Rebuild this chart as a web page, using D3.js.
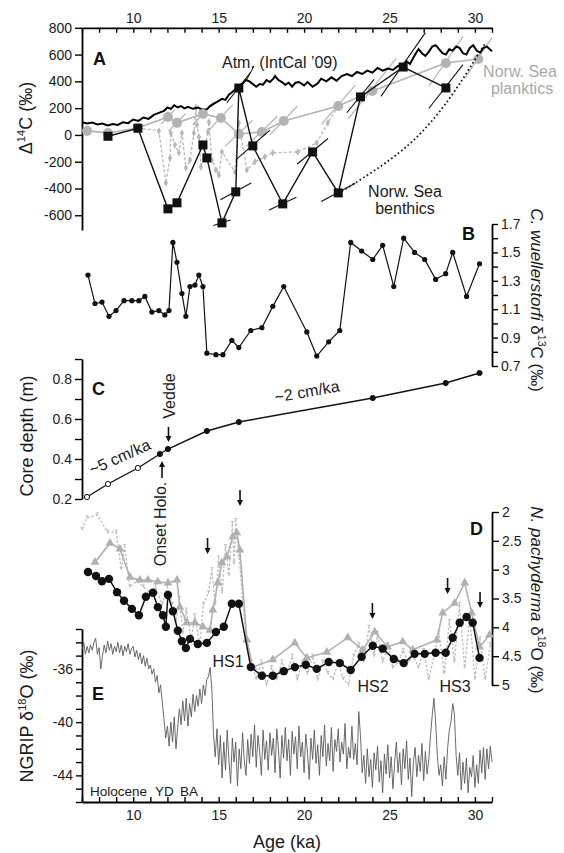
<!DOCTYPE html>
<html>
<head>
<meta charset="utf-8">
<script src="https://cdn.jsdelivr.net/npm/d3@7"></script>
<style>
  body { margin: 0; background: #fff; }
  text { font-family: "Liberation Sans", Arial, Helvetica, sans-serif; }
</style>
</head>
<body>
<svg id="chart" width="564" height="853"></svg>
<script>
// ---- panel A : D14C ----
const intcalAge = [7.0,7.3,7.6,7.9,8.2,8.5,8.8,9.1,9.4,9.7,10.0,10.3,10.6,10.9,11.2,11.5,11.8,12.0,12.2,12.4,12.6,12.8,13.0,13.2,13.5,13.8,14.0,14.3,14.5,14.8,15.0,15.2,15.4,15.6,15.8,16.0,16.2,16.4,16.6,16.8,17.0,17.2,17.4,17.6,17.8,18.0,18.2,18.3,18.5,18.7,18.9,19.1,19.3,19.5,19.7,20.0,20.2,20.5,20.8,21.0,21.3,21.6,21.9,22.2,22.5,22.8,23.1,23.4,23.7,24.0,24.3,24.6,24.9,25.2,25.5,25.8,26.0,26.2,26.5,26.7,26.9,27.1,27.3,27.5,27.7,27.9,28.1,28.3,28.5,28.7,28.9,29.1,29.3,29.5,29.7,29.9,30.1,30.3,30.5,30.7,31.0];
const intcalD14C = [95,85,92,78,85,70,82,75,95,88,115,105,130,120,150,165,180,205,195,222,205,215,198,210,195,205,190,190,215,240,255,270,262,300,320,345,370,385,410,400,380,360,380,375,410,395,420,440,410,395,375,390,360,390,395,370,395,360,385,420,400,430,405,440,455,440,470,455,480,465,500,480,495,485,515,525,550,530,600,640,610,590,620,660,670,640,610,600,640,630,660,650,610,600,650,670,630,615,650,660,625];

const plankAge  = [7.3,8.52,10.27,12.03,12.56,14.08,15.13,16.18,17.53,18.81,22.0,24.0,28.3,30.2];
const plankD14C = [30,15,52,134,90,157,127,7,22,104,216,328,537,567];
const plankErr  = [0,0,0,0.4,0.5,0.6,0.7,0.8,0.9,0.8,1.0,1.4,1.0,0.8];

const benthAge  = [8.52,10.27,12.03,12.56,14.08,14.31,15.19,16.0,16.18,17.0,18.75,20.5,22.0,23.3,25.8,28.3];
const benthD14C = [-10,50,-552,-507,-75,-172,-657,-425,350,-82,-515,-127,-433,284,507,351];
const benthErr  = [0,0,0,0,0,0,0.5,0.9,0.7,1.0,0.8,0.9,1.0,0.8,1.3,1.0];

const plank2Age  = [10.27,11.5,11.91,12.15,12.2,12.44,12.67,12.85,13.08,13.32,13.55,13.67,13.73,13.84,13.96,14.37,14.43,14.6,14.84,15.01,15.19,15.95,16.18,16.65,17.12,17.7,18.17,19.63,20.74,21.39,22.0];
const plank2D14C = [52,30,-358,-172,15,-75,-134,15,-246,-187,15,209,75,-15,-239,22,97,-187,-261,-299,-127,-276,90,-261,-201,-164,-134,-127,-60,90,216];

const reservoirAge  = [22.0,22.38,25.77,27.76,29.28,30.45,30.65];
const reservoirD14C = [-433,-410,-134,134,410,657,690];

// ---- panel B : C. wuellerstorfi d13C ----
const cibAge = [7.35,7.76,8.17,8.58,8.99,9.46,9.92,10.33,10.68,11.09,11.5,11.85,12.09,12.32,12.56,12.85,13.08,13.32,13.61,13.84,14.08,14.31,14.84,15.25,15.77,16.18,16.88,17.53,18.17,18.81,20.16,20.74,21.44,22.09,22.73,23.37,24.02,24.6,25.25,25.83,26.47,27.06,27.7,28.29,28.7,29.51,30.27];
const cibD13C = [1.34,1.14,1.15,1.05,1.09,1.16,1.16,1.16,1.19,1.08,1.09,1.06,1.09,1.57,1.43,1.21,1.05,1.26,1.27,1.34,1.26,0.79,0.78,0.78,0.88,0.83,0.95,0.97,1.12,1.26,0.94,0.77,0.87,0.95,1.57,1.51,1.45,1.55,1.26,1.6,1.5,1.45,1.31,1.35,1.5,1.19,1.42];

// ---- panel C : age model ----
const depthAge = [7.29,8.52,10.27,11.56,12.03,14.31,16.18,24.02,28.29,30.27];
const depthM   = [0.21,0.275,0.355,0.425,0.45,0.54,0.585,0.705,0.78,0.83];
const depthOpen = [true,true,true,false,false,false,false,false,false,false];

// ---- panel D : N. pachyderma d18O ----
const npsAge = [7.35,7.82,8.17,8.58,9.05,9.46,9.92,10.33,10.74,11.15,11.44,11.74,11.91,12.03,12.32,12.61,12.85,13.08,13.32,13.78,14.31,14.84,15.3,15.77,16.18,16.88,17.53,18.17,18.81,19.46,20.1,20.74,21.44,22.09,22.73,23.37,24.02,24.6,25.25,25.83,26.47,27.06,27.7,28.29,28.7,29.11,29.51,29.87,30.27];
const npsD18O = [3.04,3.11,3.2,3.16,3.39,3.54,3.68,3.79,3.47,3.4,3.65,3.79,3.99,3.44,3.72,4.06,4.24,4.36,4.2,4.29,4.27,4.08,3.99,3.59,3.59,4.69,4.84,4.84,4.76,4.69,4.65,4.72,4.6,4.62,4.74,4.51,4.32,4.37,4.55,4.62,4.46,4.46,4.44,4.44,4.18,3.92,3.82,3.92,4.53];

const triAge = [7.76,8.64,9.22,9.81,10.39,10.86,11.44,12.03,12.56,12.73,13.14,13.61,14.08,14.49,14.66,14.95,15.19,15.48,15.83,16.06,16.24,16.65,17.0,18.17,19.46,20.16,21.33,22.56,23.43,24.13,24.89,25.77,26.36,27.76,28.11,28.81,29.4,29.81,30.27,30.86];
const triD18O = [2.87,2.54,2.64,3.13,3.18,3.18,3.21,3.23,3.18,3.65,3.92,3.92,3.99,4.05,3.7,3.23,2.88,2.78,2.43,2.36,2.66,4.22,4.69,4.56,4.27,4.53,4.43,4.18,4.39,4.08,4.34,4.25,4.39,4.22,3.75,3.58,3.23,3.75,4.34,4.13];

const dotAge = [7.0,7.3,7.9,8.5,9.0,9.3,9.5,9.8,10.2,10.6,11.0,11.3,11.7,12.0,12.3,12.5,12.7,12.9,13.1,13.4,13.6,13.9,14.1,14.4,14.6,14.8,15.0,15.2,15.4,15.6,15.8,15.9,16.0,16.2,16.4,16.6,16.9,17.2,17.5,17.8,18.1,18.4,18.7,19.0,19.3,19.6,19.9,20.2,20.5,20.8,21.1,21.4,21.7,22.0,22.3,22.6,22.9,23.2,23.5,23.8,24.1,24.3,24.6,24.9,25.2,25.5,25.8,26.1,26.4,26.7,27.0,27.3,27.6,27.9,28.2,28.5,28.8,29.1,29.4,29.7,30.0,30.3,30.6,30.9];
const dotD18O = [2.3,2.1,2.05,2.35,2.35,3.0,2.6,3.3,3.2,3.3,3.4,3.3,3.6,3.3,3.6,3.9,3.5,4.1,3.7,4.2,3.8,4.3,3.6,3.4,3.0,3.6,2.8,3.4,2.6,3.1,2.2,2.9,2.15,2.8,3.5,4.2,4.6,4.9,4.6,5.0,4.7,4.9,4.6,4.8,4.5,4.9,4.6,4.8,4.5,4.9,4.6,4.8,4.9,4.6,4.9,5.0,4.5,4.3,4.6,4.0,4.5,4.1,4.6,4.3,4.7,4.6,4.4,4.6,4.5,4.7,4.4,4.9,4.5,4.1,4.8,3.9,4.6,3.6,4.7,3.8,4.9,4.2,4.9,4.3];

const arrowAge = [14.35,16.25,24.0,28.4,30.3];
const arrowTop = [538,490,603,578,592];

// ---- panel E : NGRIP d18O, one value per 0.1 ka from 7.0 ----
const ngripStart = 7.0, ngripStep = 0.1;
const ngripD18O = [
  -34.6,-34.0,-34.9,-34.3,-34.8,-34.2,-34.6,-34.0,-33.7,-34.9,
  -34.4,-36.0,-35.0,-34.2,-34.8,-33.9,-34.6,-34.1,-34.9,-34.3,
  -34.7,-34.0,-34.8,-34.2,-35.0,-34.3,-34.7,-34.1,-34.9,-34.5,
  -34.3,-35.1,-34.6,-35.3,-34.8,-35.6,-35.0,-35.8,-35.2,-36.0,
  -35.7,-36.4,-36.0,-37.0,-36.5,-37.8,-37.2,-38.5,-39.8,-41.2,
  -40.3,-41.8,-40.0,-41.5,-39.6,-42.0,-40.4,-39.0,-40.2,-38.4,
  -39.9,-38.2,-40.3,-38.6,-39.6,-37.9,-39.2,-38.0,-38.8,-37.5,
  -38.6,-37.2,-38.0,-36.8,-36.6,-35.9,-37.5,-41.0,-42.6,-40.5,
  -43.2,-41.0,-44.2,-41.5,-43.6,-40.6,-42.8,-44.6,-41.2,-43.0,
  -41.5,-44.8,-42.0,-43.5,-40.8,-42.9,-44.0,-41.3,-43.1,-40.9,
  -42.6,-40.2,-43.4,-41.0,-42.2,-44.0,-40.6,-42.8,-41.4,-43.6,
  -40.8,-42.5,-41.2,-43.8,-40.5,-42.0,-44.2,-41.0,-42.7,-40.4,
  -42.9,-41.3,-44.0,-40.7,-42.4,-41.1,-43.5,-40.3,-42.6,-41.5,
  -43.8,-40.9,-42.3,-44.3,-41.2,-42.8,-40.6,-43.1,-41.7,-44.0,
  -41.0,-42.6,-40.2,-43.3,-41.6,-42.9,-40.4,-43.7,-41.3,-42.2,
  -40.5,-43.0,-41.5,-42.4,-40.1,-43.5,-41.9,-42.7,-40.3,-42.8,
  -41.6,-43.2,-39.2,-41.0,-43.8,-42.5,-44.6,-42.0,-44.1,-42.8,
  -44.9,-42.3,-43.6,-41.8,-44.5,-42.9,-45.3,-42.4,-43.9,-41.7,
  -44.2,-42.6,-45.0,-43.1,-41.5,-43.8,-42.3,-44.7,-42.0,-43.5,
  -41.4,-44.3,-42.7,-45.6,-43.0,-41.9,-44.1,-42.5,-43.7,-41.6,
  -44.4,-42.2,-43.9,-42.8,-41.0,-39.5,-38.2,-40.0,-42.5,-44.0,
  -43.2,-44.8,-42.6,-44.3,-42.0,-40.6,-40.0,-38.6,-39.4,-42.5,
  -44.0,-42.3,-45.1,-43.0,-44.6,-42.7,-45.3,-43.4,-44.1,-42.5,
  -44.9,-43.2,-44.6,-42.1,-43.8,-41.9,-44.3,-42.0,-43.5,-41.8,
  -43.0];

// tick values
const ageMajor = [10,15,20,25,30];
const d14cTicks = [-600,-400,-200,0,200,400,600,800];
const d13cTicks = [0.7,0.8,0.9,1.0,1.1,1.2,1.3,1.4,1.5,1.6,1.7];
const depthTicks = [0.2,0.3,0.4,0.5,0.6,0.7,0.8,0.9];
const npsTicks = [2,2.5,3,3.5,4,4.5,5];
const ngripTicks = d3.range(-46,-32,1);
const ngripLabels = [-36,-40,-44];

// ---------------------------------------------------------------
const svg = d3.select("#chart");
const FONT = '"Liberation Sans", Arial, Helvetica, sans-serif';

const x  = d3.scaleLinear().domain([7,31]).range([82,492]);
const yA = d3.scaleLinear().domain([-710,800]).range([230,27.8]);
const yB = d3.scaleLinear().domain([0.7,1.7]).range([366,224]);
const yC = d3.scaleLinear().domain([0.2,0.9]).range([499,359]);
const yD = d3.scaleLinear().domain([2,5]).range([512,685]);
const yE = d3.scaleLinear().domain([-46,-33]).range([802,629]);

function styleAxis(g) {
  g.selectAll("path.domain").attr("stroke","#000").attr("stroke-width",1.8);
  g.selectAll(".tick line").attr("stroke","#000").attr("stroke-width",1.4);
  g.selectAll(".tick text").attr("font-size",14).attr("font-family",FONT).attr("fill","#1a1a1a");
}

// top and bottom age axes
svg.append("g").attr("transform",`translate(0,${yA(800)})`)
  .call(d3.axisTop(x).tickValues(d3.range(7,32)).tickSizeInner(-5).tickSizeOuter(0).tickPadding(5)
    .tickFormat(d => ageMajor.includes(d) ? d : ""))
  .call(styleAxis);
svg.append("g").attr("transform","translate(0,802)")
  .call(d3.axisBottom(x).tickValues(d3.range(7,32)).tickSizeInner(-5).tickSizeOuter(0).tickPadding(8)
    .tickFormat(d => ageMajor.includes(d) ? d : ""))
  .call(styleAxis);

// panel axes
svg.append("g").attr("transform","translate(82,0)")
  .call(d3.axisLeft(yA).tickValues(d14cTicks).tickSize(7).tickSizeOuter(0).tickPadding(3).tickFormat(d => String(d)))
  .call(styleAxis);
svg.append("g").attr("transform","translate(492,0)")
  .call(d3.axisRight(yB).tickValues(d13cTicks).tickSize(6).tickSizeOuter(0).tickPadding(3)
    .tickFormat(d => (Math.round(d*10) % 2 === 1) ? d3.format(".1f")(d) : ""))
  .call(styleAxis);
svg.append("g").attr("transform","translate(82,0)")
  .call(d3.axisLeft(yC).tickValues(depthTicks).tickSize(7).tickSizeOuter(0).tickPadding(3)
    .tickFormat(d => (Math.round(d*10) % 2 === 0 && d < 0.85) ? d3.format(".1f")(d) : ""))
  .call(styleAxis);
svg.append("g").attr("transform","translate(492,0)")
  .call(d3.axisRight(yD).tickValues(npsTicks).tickSize(7).tickSizeOuter(0).tickPadding(3).tickFormat(d => String(d)))
  .call(styleAxis);
svg.append("g").attr("transform","translate(82,0)")
  .call(d3.axisLeft(yE).tickValues(ngripTicks).tickSize(6).tickSizeOuter(0).tickPadding(3)
    .tickFormat(d => ngripLabels.includes(d) ? String(d) : ""))
  .call(styleAxis);

// helper for rich text with superscripts
function richText(tx, ty, rot, parts, size, anchor, color) {
  const t = svg.append("text")
    .attr("transform", `translate(${tx},${ty}) rotate(${rot})`)
    .attr("text-anchor", anchor || "middle")
    .attr("font-size", size).attr("fill", color || "#1a1a1a");
  let shift = 0;
  parts.forEach(p => {
    const s = t.append("tspan").text(p.t);
    if (p.sup) { s.attr("font-size", size*0.62).attr("dy", -size*0.4 - shift); shift = -size*0.4; }
    else { s.attr("dy", -shift); shift = 0; }
    if (p.it) s.attr("font-style","italic");
  });
  return t;
}

// axis titles
richText(32,118,-90,[{t:"\u0394"},{t:"14",sup:true},{t:"C (\u2030)"}],18);
richText(33,436,-90,[{t:"Core depth (m)"}],18);
richText(33,716,-90,[{t:"NGRIP \u03b4"},{t:"18",sup:true},{t:"O (\u2030)"}],18);
richText(531,300,90,[{t:"C. wuellerstorfi",it:true},{t:" \u03b4"},{t:"13",sup:true},{t:"C (\u2030)"}],17);
richText(531,600,90,[{t:"N. pachyderma",it:true},{t:" \u03b4"},{t:"18",sup:true},{t:"O (\u2030)"}],17);
svg.append("text").attr("x",287).attr("y",848).attr("text-anchor","middle")
  .attr("font-size",18).attr("fill","#1a1a1a").text("Age (ka)");

// panel letters
[["A",93,65],["B",462,240],["C",92,395],["D",470,535],["E",92,700]].forEach(([l,lx,ly]) => {
  svg.append("text").attr("x",lx).attr("y",ly).attr("font-size",18).attr("font-weight","bold")
    .attr("fill","#111").text(l);
});

// ---------- panel A ----------
const lineA = (ages, vals) => d3.line().x((d,i) => x(ages[i])).y((d,i) => yA(vals[i]))(ages);

// slanted age-uncertainty bars follow lines of constant radiocarbon age
function isochron(t, d, e) {
  const f = dt => (1000 + d) * Math.exp(dt / 8.267) - 1000;
  return [[x(t - e), yA(f(-e))], [x(t + e), yA(f(e))]];
}
plankAge.forEach((t,i) => {
  if (plankErr[i] > 0) svg.append("path").attr("d", d3.line()(isochron(t, plankD14C[i], plankErr[i])))
    .attr("stroke","#b3b3b3").attr("stroke-width",1.2).attr("fill","none");
});

svg.append("path").attr("d", lineA(plank2Age, plank2D14C))
  .attr("fill","none").attr("stroke","#b8b8b8").attr("stroke-width",1.3).attr("stroke-dasharray","3,2");
svg.append("g").selectAll("path").data(plank2Age).join("path")
  .attr("d", d3.symbol(d3.symbolDiamond, 16))
  .attr("transform",(d,i) => `translate(${x(d)},${yA(plank2D14C[i])})`)
  .attr("fill","#b8b8b8");

svg.append("path").attr("d", d3.line().x((d,i)=>x(intcalAge[i])).y((d,i)=>yA(intcalD14C[i]))(intcalAge))
  .attr("fill","none").attr("stroke","#000").attr("stroke-width",2);

svg.append("path").attr("d", lineA(plankAge, plankD14C))
  .attr("fill","none").attr("stroke","#b3b3b3").attr("stroke-width",1.6);
svg.append("g").selectAll("circle").data(plankAge).join("circle")
  .attr("cx", d => x(d)).attr("cy",(d,i) => yA(plankD14C[i])).attr("r",5).attr("fill","#b3b3b3");

benthAge.forEach((t,i) => {
  if (benthErr[i] > 0) svg.append("path").attr("d", d3.line()(isochron(t, benthD14C[i], benthErr[i])))
    .attr("stroke","#111").attr("stroke-width",1.1).attr("fill","none");
});
svg.append("path").attr("d", lineA(benthAge, benthD14C))
  .attr("fill","none").attr("stroke","#111").attr("stroke-width",1.4);
svg.append("g").selectAll("rect").data(benthAge).join("rect")
  .attr("x", d => x(d) - 4.5).attr("y",(d,i) => yA(benthD14C[i]) - 4.5)
  .attr("width",9).attr("height",9).attr("fill","#111");

svg.append("path").attr("d", d3.line().curve(d3.curveBasis).x((d,i)=>x(reservoirAge[i])).y((d,i)=>yA(reservoirD14C[i]))(reservoirAge))
  .attr("fill","none").attr("stroke","#111").attr("stroke-width",1.8).attr("stroke-dasharray","1.6,2.6");

// A labels
svg.append("text").attr("x",222).attr("y",68).attr("font-size",16).attr("fill","#1a1a1a").text("Atm. (IntCal \u201909)");
svg.append("line").attr("x1",254).attr("y1",66).attr("x2",246).attr("y2",81).attr("stroke","#111").attr("stroke-width",1);
svg.append("text").attr("x",520).attr("y",77).attr("text-anchor","middle").attr("font-size",16).attr("fill","#a8a8a8").text("Norw. Sea");
svg.append("text").attr("x",522).attr("y",94).attr("text-anchor","middle").attr("font-size",16).attr("fill","#a8a8a8").text("planktics");
svg.append("text").attr("x",405).attr("y",197).attr("text-anchor","middle").attr("font-size",16).attr("fill","#1a1a1a").text("Norw. Sea");
svg.append("text").attr("x",405).attr("y",214).attr("text-anchor","middle").attr("font-size",16).attr("fill","#1a1a1a").text("benthics");

// ---------- panel B ----------
svg.append("path").attr("d", d3.line().x((d,i)=>x(cibAge[i])).y((d,i)=>yB(cibD13C[i]))(cibAge))
  .attr("fill","none").attr("stroke","#111").attr("stroke-width",1.2);
svg.append("g").selectAll("circle").data(cibAge).join("circle")
  .attr("cx", d => x(d)).attr("cy",(d,i) => yB(cibD13C[i])).attr("r",2.6).attr("fill","#111");

// ---------- panel C ----------
svg.append("path").attr("d", d3.line().x((d,i)=>x(depthAge[i])).y((d,i)=>yC(depthM[i]))(depthAge))
  .attr("fill","none").attr("stroke","#111").attr("stroke-width",1.4);
svg.append("g").selectAll("circle").data(depthAge).join("circle")
  .attr("cx", d => x(d)).attr("cy",(d,i) => yC(depthM[i])).attr("r",2.6)
  .attr("fill",(d,i) => depthOpen[i] ? "#fff" : "#111").attr("stroke","#111").attr("stroke-width",1);

svg.append("text").attr("transform","translate(122,462) rotate(-24)").attr("text-anchor","middle")
  .attr("font-size",16).attr("fill","#1a1a1a").text("~5 cm/ka");
svg.append("text").attr("transform","translate(308,397) rotate(-10)").attr("text-anchor","middle")
  .attr("font-size",16).attr("fill","#1a1a1a").text("~2 cm/ka");
svg.append("text").attr("transform","translate(175,396) rotate(-90)").attr("text-anchor","middle")
  .attr("font-size",16).attr("fill","#1a1a1a").text("Vedde");
svg.append("text").attr("transform","translate(166,524) rotate(-90)").attr("text-anchor","middle")
  .attr("font-size",16).attr("fill","#1a1a1a").text("Onset Holo.");

function arrow(ax, y1, y2) {
  const dir = y2 > y1 ? 1 : -1;
  svg.append("line").attr("x1",ax).attr("x2",ax).attr("y1",y1).attr("y2",y2 - dir*5)
    .attr("stroke","#111").attr("stroke-width",1.6);
  svg.append("path").attr("d",`M${ax-3},${y2 - dir*6} L${ax+3},${y2 - dir*6} L${ax},${y2} Z`).attr("fill","#111");
}
arrow(168.5, 427, 442);
arrow(162, 478, 461);

// ---------- panel D ----------
svg.append("path").attr("d", d3.line().x((d,i)=>x(dotAge[i])).y((d,i)=>yD(dotD18O[i]))(dotAge))
  .attr("fill","none").attr("stroke","#bdbdbd").attr("stroke-width",1.3).attr("stroke-dasharray","2.5,1.8");
svg.append("g").selectAll("path").data(dotAge).join("path")
  .attr("d",(d,i) => { const px = x(d), py = yD(dotD18O[i]); return `M${px-1.5},${py-2}H${px+1.5}M${px},${py-2}V${py+1}`; })
  .attr("stroke","#bdbdbd").attr("stroke-width",1);

svg.append("path").attr("d", d3.line().x((d,i)=>x(triAge[i])).y((d,i)=>yD(triD18O[i]))(triAge))
  .attr("fill","none").attr("stroke","#b0b0b0").attr("stroke-width",1.6);
svg.append("g").selectAll("path").data(triAge).join("path")
  .attr("d", d3.symbol(d3.symbolTriangle, 34))
  .attr("transform",(d,i) => `translate(${x(d)},${yD(triD18O[i])})`)
  .attr("fill","#b0b0b0");

svg.append("path").attr("d", d3.line().x((d,i)=>x(npsAge[i])).y((d,i)=>yD(npsD18O[i]))(npsAge))
  .attr("fill","none").attr("stroke","#111").attr("stroke-width",1.5);
svg.append("g").selectAll("circle").data(npsAge).join("circle")
  .attr("cx", d => x(d)).attr("cy",(d,i) => yD(npsD18O[i])).attr("r",4.2).attr("fill","#111");

arrowAge.forEach((a,i) => arrow(x(a), arrowTop[i], arrowTop[i] + 16));

[["HS1",228,667],["HS2",373,692],["HS3",455,692]].forEach(([l,lx,ly]) => {
  svg.append("text").attr("x",lx).attr("y",ly).attr("text-anchor","middle")
    .attr("font-size",16).attr("fill","#1a1a1a").text(l);
});

// ---------- panel E ----------
svg.append("path")
  .attr("d", d3.line().x((d,i) => x(ngripStart + i*ngripStep)).y(d => yE(d))(ngripD18O))
  .attr("fill","none").attr("stroke","#5a5a5a").attr("stroke-width",0.9);

svg.append("text").attr("x",90).attr("y",796).attr("font-size",13.5).attr("fill","#1a1a1a").text("Holocene");
svg.append("text").attr("x",155).attr("y",796).attr("font-size",13.5).attr("fill","#1a1a1a").text("YD");
svg.append("text").attr("x",180).attr("y",796).attr("font-size",13.5).attr("fill","#1a1a1a").text("BA");
</script>
</body>
</html>
